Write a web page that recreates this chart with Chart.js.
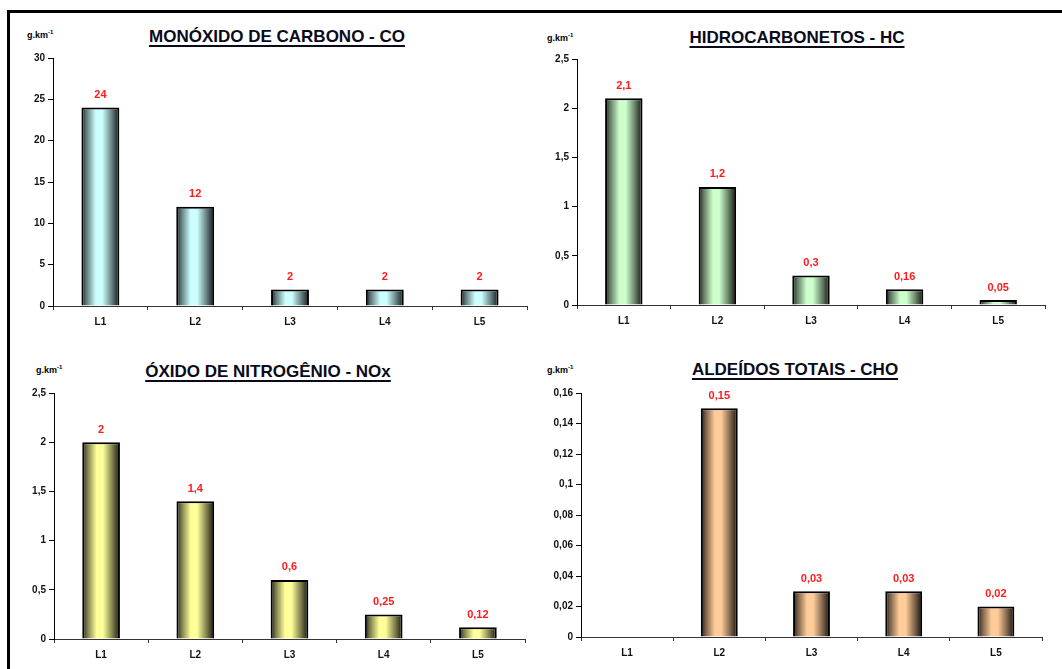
<!DOCTYPE html>
<html>
<head>
<meta charset="utf-8">
<script src="https://cdn.jsdelivr.net/npm/chart.js@4/dist/chart.umd.min.js"></script>
<style>
  html, body { margin: 0; padding: 0; background: #fff; }
  body { width: 1062px; height: 669px; position: relative; overflow: hidden;
         font-family: "Liberation Sans", Arial, sans-serif; }
  .frame { position: absolute; left: 7px; top: 10px; right: -10px; bottom: -10px;
           border-left: 3px solid #000; border-top: 3px solid #000; }
  .panel { position: absolute; }
  .title { position: absolute; transform: translateX(-50%); white-space: nowrap;
           font-weight: bold; font-size: 17px; line-height: 20px; color: #0a0a1a;
           text-decoration: underline; text-decoration-thickness: 2px; text-underline-offset: 3px; }
  .unit { position: absolute; font-weight: bold; font-size: 9px; line-height: 10px; color: #000; white-space: nowrap; }
  .unit sup { font-size: 6px; }
</style>
</head>
<body>
<div class="frame"></div>

<div class="title" style="left:277px; top:27px;">MONÓXIDO DE CARBONO - CO</div>
<div class="title" style="left:797px; top:28px;">HIDROCARBONETOS - HC</div>
<div class="title" style="left:268px; top:362px;">ÓXIDO DE NITROGÊNIO - NOx</div>
<div class="title" style="left:795px; top:360px;">ALDEÍDOS TOTAIS - CHO</div>

<div class="unit" style="left:27px; top:27px;">g.km<sup>-1</sup></div>
<div class="unit" style="left:547px; top:30px;">g.km<sup>-1</sup></div>
<div class="unit" style="left:36px; top:362px;">g.km<sup>-1</sup></div>
<div class="unit" style="left:547px; top:362px;">g.km<sup>-1</sup></div>

<div class="panel" id="p-co"><canvas id="coChart"></canvas></div>
<div class="panel" id="p-hc"><canvas id="hcChart"></canvas></div>
<div class="panel" id="p-nox"><canvas id="noxChart"></canvas></div>
<div class="panel" id="p-cho"><canvas id="choChart"></canvas></div>

<script>
"use strict";

/* ── Data ──────────────────────────────────────────────────────────────── */
const LABELS     = ["L1", "L2", "L3", "L4", "L5"];
const CO_VALUES  = [24, 12, 2, 2, 2];
const HC_VALUES  = [2.1, 1.2, 0.3, 0.16, 0.05];
const NOX_VALUES = [2, 1.4, 0.6, 0.25, 0.12];
const CHO_VALUES = [null, 0.15, 0.03, 0.03, 0.02];

const CO_TICKS  = { max: 30,   step: 5 };
const HC_TICKS  = { max: 2.5,  step: 0.5 };
const NOX_TICKS = { max: 2.5,  step: 0.5 };
const CHO_TICKS = { max: 0.16, step: 0.02 };

/* ── Layout (axis box in page pixels) ──────────────────────────────────── */
const YW = 45, XH = 30, PT = 14, PR = 6;
const BAR_PCT = 0.4;
const FONT = "'Liberation Sans', Arial, sans-serif";

const fmt = (v) => String(+Number(v).toFixed(2)).replace(".", ",");

function mix(hex, t) {
  const n = parseInt(hex.slice(1), 16);
  const r = (n >> 16) & 255, g = (n >> 8) & 255, b = n & 255;
  const k = 1 - t;
  return `rgb(${Math.round(r * k)},${Math.round(g * k)},${Math.round(b * k)})`;
}

/* cylinder shading across each bar */
function barFill(light) {
  return (c) => {
    const ch = c.chart;
    if (c.type !== "data" || !ch.chartArea) return light;
    const xs = ch.scales.x;
    const cx = xs.getPixelForValue(c.dataIndex);
    const w  = xs.width / LABELS.length * BAR_PCT;
    const g  = ch.ctx.createLinearGradient(cx - w / 2, 0, cx + w / 2, 0);
    g.addColorStop(0,    mix(light, 0.9));
    g.addColorStop(0.12, mix(light, 0.55));
    g.addColorStop(0.38, mix(light, 0));
    g.addColorStop(0.55, mix(light, 0));
    g.addColorStop(0.8,  mix(light, 0.5));
    g.addColorStop(1,    mix(light, 0.92));
    return g;
  };
}

/* red value labels above the bars */
const valueLabels = {
  id: "valueLabels",
  afterDatasetsDraw(chart) {
    const { ctx } = chart;
    const ds = chart.data.datasets[0];
    ctx.save();
    ctx.fillStyle = "#ff1a1a";
    ctx.font = `bold 11px ${FONT}`;
    ctx.textAlign = "center";
    ctx.textBaseline = "bottom";
    chart.getDatasetMeta(0).data.forEach((el, i) => {
      const v = ds.data[i];
      if (v == null) return;
      ctx.fillText(fmt(v), el.x, el.y - 7);
    });
    ctx.restore();
  },
};

function makeChart(panelId, canvasId, box, values, ticks, light) {
  const left = box.left - YW, top = box.top - PT;
  const width = box.right + PR - left, height = box.bottom + XH - top;
  const p = document.getElementById(panelId);
  Object.assign(p.style, { left: left + "px", top: top + "px",
                           width: width + "px", height: height + "px" });

  new Chart(document.getElementById(canvasId), {
    type: "bar",
    data: {
      labels: LABELS,
      datasets: [{
        data: values,
        backgroundColor: barFill(light),
        borderColor: "#000",
        borderWidth: 2,
        barPercentage: BAR_PCT,
        categoryPercentage: 1,
      }],
    },
    options: {
      responsive: true, maintainAspectRatio: false,
      animation: false,
      layout: { padding: { top: PT, right: PR, left: 0, bottom: 0 } },
      plugins: { legend: { display: false }, tooltip: { enabled: false } },
      scales: {
        x: {
          afterFit: (s) => { s.height = XH; },
          border: { display: true, color: "#333", width: 1 },
          grid: { offset: true, drawOnChartArea: false, drawTicks: true,
                  tickLength: 4, color: "#333" },
          ticks: { color: "#111", padding: 6, font: { family: FONT, size: 10, weight: "bold" } },
        },
        y: {
          min: 0, max: ticks.max,
          afterFit: (s) => { s.width = YW; },
          border: { display: true, color: "#000", width: 1 },
          grid: { drawOnChartArea: false, drawTicks: true, tickLength: 5, color: "#000" },
          ticks: {
            stepSize: ticks.step, padding: 3, color: "#111",
            font: { family: FONT, size: 10, weight: "bold" },
            callback: (v) => fmt(v),
          },
        },
      },
    },
    plugins: [valueLabels],
  });
}

makeChart("p-co",  "coChart",  { left: 53,  right: 527,  top: 58,  bottom: 306 }, CO_VALUES,  CO_TICKS,  "#ccffff");
makeChart("p-hc",  "hcChart",  { left: 577, right: 1045, top: 59,  bottom: 305 }, HC_VALUES,  HC_TICKS,  "#ccffcc");
makeChart("p-nox", "noxChart", { left: 54,  right: 525,  top: 393, bottom: 639 }, NOX_VALUES, NOX_TICKS, "#ffff99");
makeChart("p-cho", "choChart", { left: 581, right: 1042, top: 393, bottom: 637 }, CHO_VALUES, CHO_TICKS, "#ffcc99");
</script>
</body>
</html>
